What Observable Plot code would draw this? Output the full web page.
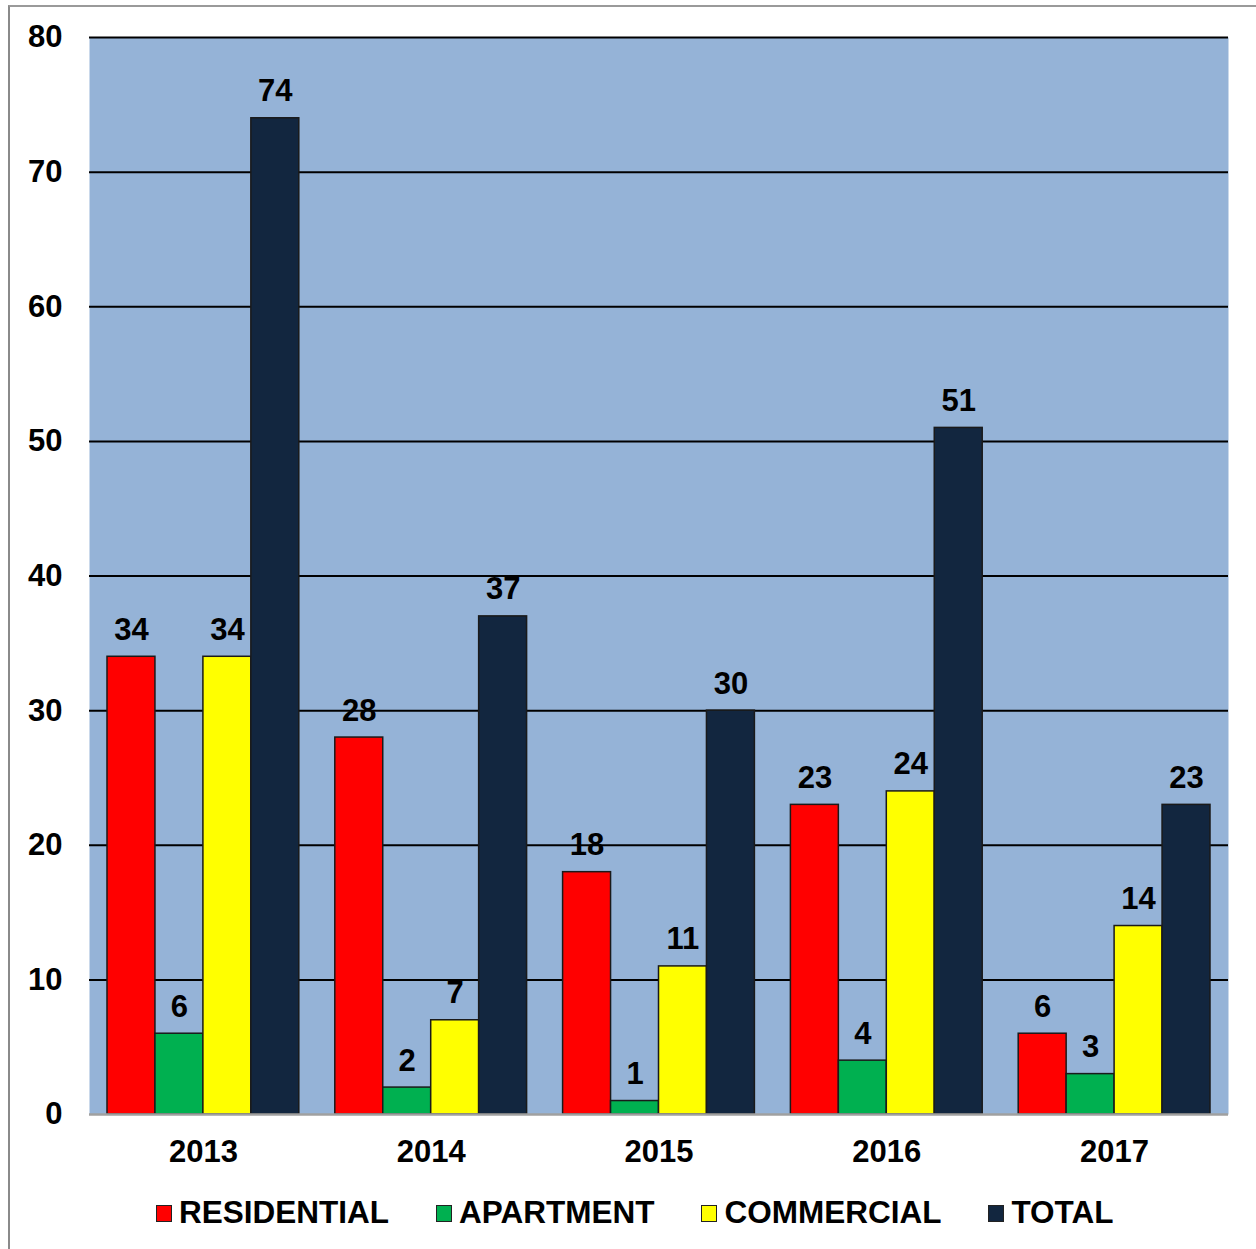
<!DOCTYPE html>
<html>
<head>
<meta charset="utf-8">
<script src="https://cdn.jsdelivr.net/npm/d3@7"></script>
<script src="https://cdn.jsdelivr.net/npm/@observablehq/plot@0.6"></script>
<style>
  html, body { margin: 0; padding: 0; background: #fff; }
  #wrap { position: relative; width: 1256px; height: 1249px; overflow: hidden; font-family: "Liberation Sans", Arial, sans-serif; }
  #border { position: absolute; left: 8px; top: 5px; width: 1260px; height: 1260px; border-left: 2px solid #8a8a8a; border-top: 2px solid #9a9a9a; }
  #chart { position: absolute; left: 0; top: 0; }
  #legend { position: absolute; left: 156px; top: 1196px; display: flex; align-items: center; font-weight: bold; font-size: 31.5px; line-height: 32px; color: #000; white-space: nowrap; }
  .item { display: flex; align-items: center; margin-right: 47px; }
  .sw { width: 14px; height: 15px; border: 1.5px solid #222; margin-right: 7px; margin-top: 2px; }
</style>
</head>
<body>
<div id="wrap">
  <div id="border"></div>
  <div id="chart"></div>
  <div id="legend"></div>
</div>
<script>
const years = ["2013", "2014", "2015", "2016", "2017"];
const series = ["RESIDENTIAL", "APARTMENT", "COMMERCIAL", "TOTAL"];
const residential = [34, 28, 18, 23, 6];
const apartment = [6, 2, 1, 4, 3];
const commercial = [34, 7, 11, 24, 14];
const total = [74, 37, 30, 51, 23];
const colors = ["#FF0000", "#00B050", "#FFFF00", "#12263F"];
const yTicks = [0, 10, 20, 30, 40, 50, 60, 70, 80];

const valuesBySeries = [residential, apartment, commercial, total];
const data = [];
years.forEach((year, i) => {
  series.forEach((s, j) => {
    data.push({year, series: s, value: valuesBySeries[j][i]});
  });
});

const font = "'Liberation Sans', Arial, sans-serif";
const FS = 31;
const W = 1256, ML = 89, MR = 28;
const pIn = 0.158, pOut = 0.079;
const step = (W - ML - MR) / (years.length - pIn + 2 * pOut);
const bw = step * (1 - pIn);
const sub = bw / series.length;

const seriesMarks = [];
series.forEach((s, j) => {
  const rows = data.filter(d => d.series === s);
  seriesMarks.push(Plot.barY(rows, {
    x: "year", y: "value", fill: "series",
    insetLeft: j * sub, insetRight: (series.length - 1 - j) * sub,
    stroke: "#1a1a1a", strokeWidth: 1.5
  }));
});
const labelMarks = [];
series.forEach((s, j) => {
  const rows = data.filter(d => d.series === s);
  labelMarks.push(Plot.text(rows, {
    x: "year", y: "value", text: d => String(d.value),
    dx: (j - (series.length - 1) / 2) * sub,
    lineAnchor: "bottom", dy: -17, fontSize: FS, fontWeight: "bold", fill: "#000"
  }));
});

const chart = Plot.plot({
  width: W,
  height: 1180,
  marginTop: 37,
  marginLeft: ML,
  marginRight: MR,
  marginBottom: 66,
  style: {fontFamily: font, fontWeight: "bold", fontSize: FS + "px", color: "#000", background: "transparent", overflow: "visible"},
  x: {domain: years, paddingInner: pIn, paddingOuter: pOut, round: false, label: null},
  y: {domain: [0, 80], label: null},
  color: {domain: series, range: colors},
  marks: [
    Plot.frame({fill: "#95B3D7", stroke: "none"}),
    Plot.ruleY(yTicks.filter(d => d > 0), {stroke: "#000", strokeWidth: 2}),
    ...seriesMarks,
    ...labelMarks,
    Plot.ruleY([0], {stroke: "#a0a0a0", strokeWidth: 2.5}),
    Plot.axisY(yTicks, {tickSize: 0, tickPadding: 27, fontSize: FS, fontWeight: "bold", label: null}),
    Plot.axisX({tickSize: 0, tickPadding: 25, fontSize: FS, fontWeight: "bold", label: null})
  ]
});
document.getElementById("chart").appendChild(chart);

const legend = document.getElementById("legend");
series.forEach((s, j) => {
  const item = document.createElement("div");
  item.className = "item";
  const sw = document.createElement("div");
  sw.className = "sw";
  sw.style.background = colors[j];
  const label = document.createElement("span");
  label.textContent = s;
  item.appendChild(sw);
  item.appendChild(label);
  legend.appendChild(item);
});
</script>
</body>
</html>
